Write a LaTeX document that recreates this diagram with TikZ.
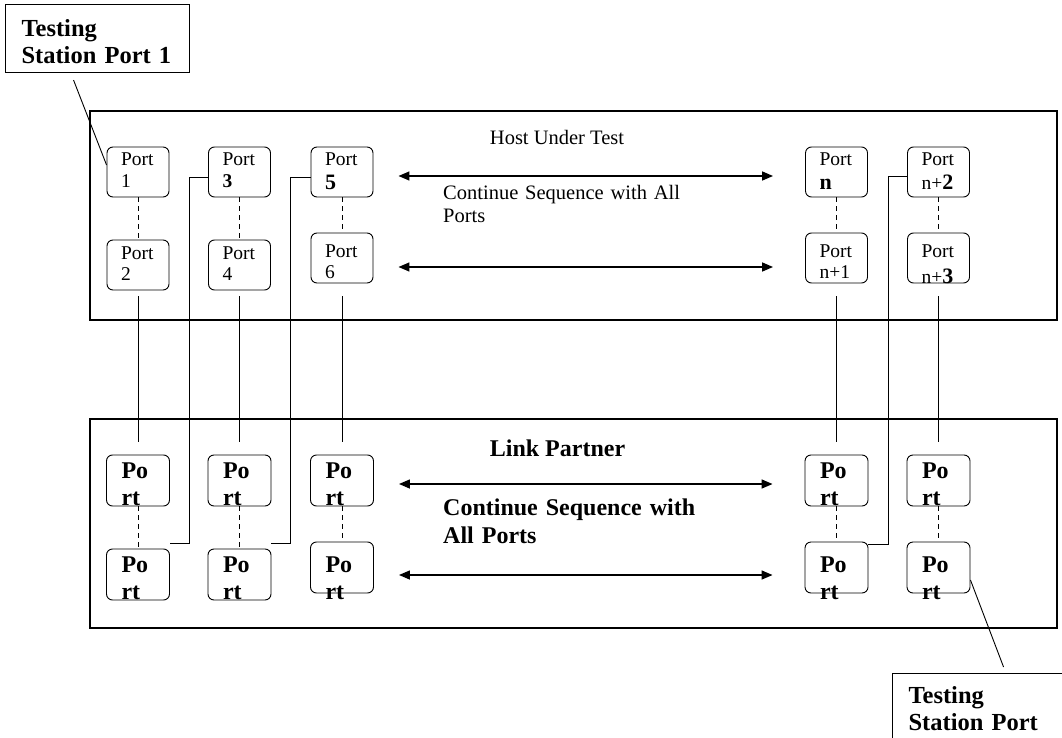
\documentclass[tikz,border=0pt]{standalone}
\usepackage{fontspec}
\setmainfont{Liberation Serif}
\usepackage{tikz}
\usetikzlibrary{arrows.meta}

\newcommand\portnum[1]{{\fontsize{22}{21}\selectfont\bfseries #1}}

\begin{document}
\begin{tikzpicture}[x=1pt,y=-1pt,
    every node/.style={inner sep=0pt},
    frame/.style={draw,line width=1.2pt,minimum width=967pt,minimum height=209pt},
    hostport/.style={draw,line width=0.9pt,rounded corners=6pt,text width=34pt,
        inner xsep=14pt,align=left,text height=19pt,text depth=31pt,
        font=\fontsize{19.5}{21}\selectfont},
    linkport/.style={draw,line width=0.9pt,rounded corners=6pt,text width=33pt,
        inner xsep=15pt,align=left,text height=23pt,text depth=28pt,
        font=\fontsize{24}{27}\selectfont\bfseries},
    raised/.style={text height=24pt,text depth=26pt},
    lifted/.style={text height=30pt,text depth=21pt},
    station/.style={draw,line width=1.1pt,text width=152pt,inner xsep=16pt,
        align=left,text height=32pt,text depth=36pt,anchor=north west,
        font=\fontsize{24.5}{27}\selectfont\bfseries},
    pair/.style={dashed,dash pattern=on 5pt off 4pt,line width=0.8pt},
    wire/.style={line width=0.9pt},
    seq/.style={line width=1.4pt,<->,>={Triangle[length=11pt,width=9pt]},
        shorten <=25pt,shorten >=32pt},
    plain/.style={font=\fontsize{20.5}{23}\selectfont},
    heavy/.style={font=\fontsize{24}{28}\selectfont\bfseries}]

\useasboundingbox (0,0) rectangle (1062,738);
\clip (0,0) rectangle (1062,738);

% the two units
\node [frame] (host) at (573.5,215.5) {};
\node [frame] (link) at (573.5,523.5) {};

% host under test
\path
    (138,172) node [hostport] (host1) {Port\\1}
    (239.5,172) node [hostport] (host3) {Port\\\textbf{3}}
    (342,172) node [hostport] (host5) {Port\\[3pt]\portnum{5}}
    (836.5,172) node [hostport] (hostn) {Port\\[3pt]\portnum{n}}
    (938.5,172) node [hostport] (hostn2) {Port\\[3pt]n+\portnum{2}}
    (138,265) node [hostport] (host2) {Port\\2}
    (239.5,265) node [hostport] (host4) {Port\\4}
    (342,258) node [hostport,raised] (host6) {Port\\6}
    (836.5,258) node [hostport,raised] (hostn1) {Port\\n+1}
    (938.5,258) node [hostport,raised] (hostn3) {Port\\[5pt]n+\portnum{3}};
\node [plain,anchor=base] (hostlabel) at (557,145) {Host Under Test};
\node [plain,text width=300pt,align=left,anchor=base west] (hostseq) at (443,200)
    {Continue Sequence with All\\Ports};

% link partner
\path
    (138,480.5) node [linkport] (link1) {Po\\rt}
    (239.5,480.5) node [linkport] (link3) {Po\\rt}
    (342,480.5) node [linkport] (link5) {Po\\rt}
    (836.5,480.5) node [linkport] (linkn) {Po\\rt}
    (938.5,480.5) node [linkport] (linkn2) {Po\\rt}
    (138,574.5) node [linkport] (link2) {Po\\rt}
    (239.5,574.5) node [linkport] (link4) {Po\\rt}
    (342,567.5) node [linkport,lifted] (link6) {Po\\rt}
    (836.5,567.5) node [linkport,lifted] (linkn1) {Po\\rt}
    (938.5,567.5) node [linkport,lifted] (linkn3) {Po\\rt};
\node [heavy,anchor=base] (linklabel) at (557.5,456) {Link Partner};
\node [heavy,text width=300pt,align=left,anchor=base west] (linkseq) at (443,515)
    {Continue Sequence with\\All Ports};

% testing station
\node [station] (station1) at (5,4) {Testing\\Station Port 1};
\node [station,text height=30pt,text depth=38pt] (station2) at (892,673)
    {Testing\\Station Port};

% dashed pairs
\foreach \a/\b in {host1/host2,host3/host4,host5/host6,hostn/hostn1,hostn2/hostn3,
    link1/link2,link3/link4,link5/link6,linkn/linkn1,linkn2/linkn3}
    \draw [pair] (\a.south) -- (\b.north);

% straight wires
\coordinate (wiretop) at (0,296);
\coordinate (wirebot) at (0,442);
\foreach \a/\b in {host2/link1,host4/link3,host6/link5,hostn1/linkn,hostn3/linkn2}
    \draw [wire] (\a |- wiretop) -- (\b |- wirebot);

% crossed wires
\draw [wire] ([yshift=-5pt]host3.west) -- ++(-19,0) |- ([yshift=5pt]link2.north east);
\draw [wire] ([yshift=-5pt]host5.west) -- ++(-20,0) |- ([yshift=5pt]link4.north east);
\draw [wire] ([yshift=-4pt]hostn2.west) -- ++(-19,0) |- ([yshift=-3pt]linkn1.north east);

% sequence arrows
\draw [seq] ([yshift=-4pt]host5.east) -- ([yshift=-4pt]hostn.west);
\draw [seq] ([yshift=-9pt]host6.east) -- ([yshift=-9pt]hostn1.west);
\draw [seq] ([yshift=-3.5pt]link5.east) -- ([yshift=-3.5pt]linkn.west);
\draw [seq] ([yshift=-7.5pt]link6.east) -- ([yshift=-7.5pt]linkn1.west);

% leaders
\draw [wire] ([xshift=-24pt,yshift=-7pt]station1.south) -- ([yshift=7pt]host1.west);
\draw [wire] ([yshift=-12.5pt]linkn3.east) -- ([xshift=19pt,yshift=6pt]station2.north);
\end{tikzpicture}
\end{document}
